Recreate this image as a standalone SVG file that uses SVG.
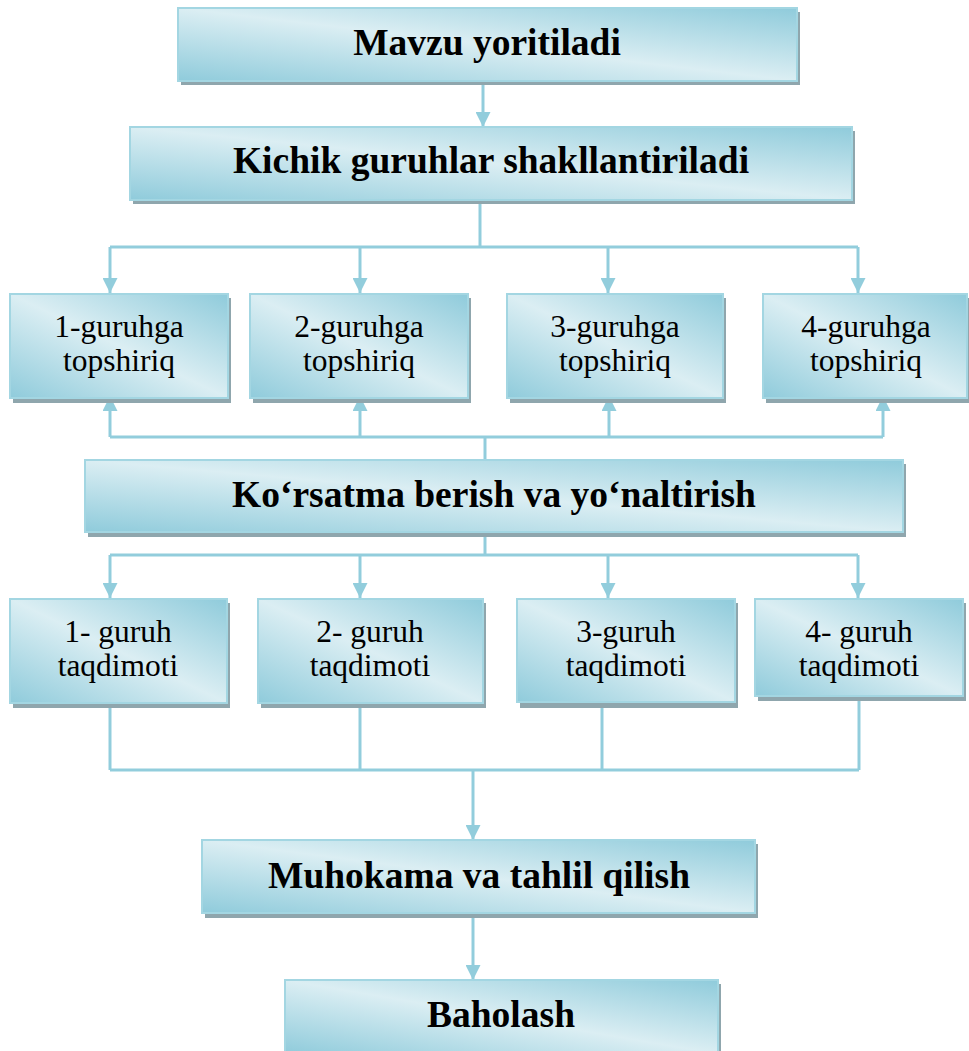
<svg xmlns="http://www.w3.org/2000/svg" width="969" height="1051" viewBox="0 0 969 1051">
<defs>
<linearGradient id="grad" x1="0" y1="1" x2="1" y2="0">
<stop offset="0" stop-color="#8fcbdb"/>
<stop offset="0.5" stop-color="#dbeef3"/>
<stop offset="1" stop-color="#8fcbdb"/>
</linearGradient>
<marker id="arr" markerUnits="userSpaceOnUse" markerWidth="16" markerHeight="15" refX="15" refY="7.5" orient="auto">
<path d="M0,0 L15,7.5 L0,15 Z" fill="#92cddc"/>
</marker>
</defs>
<style>
.sh{fill:#8fa6ad}
.bx{fill:url(#grad);stroke:#a3d6e2;stroke-width:2}
.t{font-family:"Liberation Serif","Times New Roman",serif;font-weight:bold;font-size:37.5px;fill:#000;text-anchor:middle}
.s{font-family:"Liberation Serif","Times New Roman",serif;font-size:31.5px;fill:#000;text-anchor:middle}
.c{fill:none;stroke:#92cddc;stroke-width:3}
</style>
<rect width="969" height="1051" fill="#fff"/>

<g id="connectors">
<line class="c" x1="483" y1="81" x2="483" y2="127" marker-end="url(#arr)"/>
<polyline class="c" points="480,200 480,247"/>
<line class="c" x1="110" y1="247" x2="858" y2="247"/>
<line class="c" x1="110" y1="247" x2="110" y2="293" marker-end="url(#arr)"/>
<line class="c" x1="360" y1="247" x2="360" y2="293" marker-end="url(#arr)"/>
<line class="c" x1="608" y1="247" x2="608" y2="293" marker-end="url(#arr)"/>
<line class="c" x1="858" y1="247" x2="858" y2="293" marker-end="url(#arr)"/>
<line class="c" x1="110" y1="437" x2="883" y2="437"/>
<line class="c" x1="110" y1="437" x2="110" y2="396" marker-end="url(#arr)"/>
<line class="c" x1="360" y1="437" x2="360" y2="396" marker-end="url(#arr)"/>
<line class="c" x1="609" y1="437" x2="609" y2="396" marker-end="url(#arr)"/>
<line class="c" x1="883" y1="437" x2="883" y2="396" marker-end="url(#arr)"/>
<line class="c" x1="485" y1="437" x2="485" y2="460"/>
<line class="c" x1="485" y1="532" x2="485" y2="555"/>
<line class="c" x1="110" y1="555" x2="858" y2="555"/>
<line class="c" x1="110" y1="555" x2="110" y2="598" marker-end="url(#arr)"/>
<line class="c" x1="360" y1="555" x2="360" y2="598" marker-end="url(#arr)"/>
<line class="c" x1="608" y1="555" x2="608" y2="598" marker-end="url(#arr)"/>
<line class="c" x1="858" y1="555" x2="858" y2="598" marker-end="url(#arr)"/>
<line class="c" x1="110" y1="703" x2="110" y2="770"/>
<line class="c" x1="360" y1="703" x2="360" y2="770"/>
<line class="c" x1="602" y1="703" x2="602" y2="770"/>
<line class="c" x1="859" y1="696" x2="859" y2="770"/>
<line class="c" x1="110" y1="770" x2="859" y2="770"/>
<line class="c" x1="473" y1="770" x2="473" y2="840" marker-end="url(#arr)"/>
<line class="c" x1="473" y1="913" x2="473" y2="980" marker-end="url(#arr)"/>
</g>

<g id="mavzu">
<rect class="sh" x="181" y="12" width="619" height="73"/>
<rect class="bx" x="178" y="8" width="619" height="73"/>
<text class="t" x="487" y="55">Mavzu yoritiladi</text>
</g>
<g id="kichik">
<rect class="sh" x="133" y="131" width="722" height="73"/>
<rect class="bx" x="130" y="127" width="722" height="73"/>
<text class="t" x="491" y="173">Kichik guruhlar shakllantiriladi</text>
</g>

<g id="t1">
<rect class="sh" x="13" y="298" width="218" height="105"/>
<rect class="bx" x="10" y="294" width="218" height="104"/>
<text class="s" x="119" y="337">1-guruhga</text>
<text class="s" x="119" y="371">topshiriq</text>
</g>
<g id="t2">
<rect class="sh" x="253" y="298" width="218" height="105"/>
<rect class="bx" x="250" y="294" width="218" height="104"/>
<text class="s" x="359" y="337">2-guruhga</text>
<text class="s" x="359" y="371">topshiriq</text>
</g>
<g id="t3">
<rect class="sh" x="510" y="298" width="216" height="105"/>
<rect class="bx" x="507" y="294" width="216" height="104"/>
<text class="s" x="615" y="337">3-guruhga</text>
<text class="s" x="615" y="371">topshiriq</text>
</g>
<g id="t4">
<rect class="sh" x="766" y="298" width="206" height="105"/>
<rect class="bx" x="763" y="294" width="204" height="104"/>
<text class="s" x="866" y="337">4-guruhga</text>
<text class="s" x="866" y="371">topshiriq</text>
</g>

<g id="korsatma">
<rect class="sh" x="88" y="464" width="818" height="73"/>
<rect class="bx" x="85" y="460" width="818" height="72"/>
<text class="t" x="494" y="507">Ko‘rsatma berish va yo‘naltirish</text>
</g>

<g id="g1">
<rect class="sh" x="13" y="603" width="217" height="105"/>
<rect class="bx" x="10" y="599" width="217" height="104"/>
<text class="s" x="118" y="642">1- guruh</text>
<text class="s" x="118" y="676">taqdimoti</text>
</g>
<g id="g2">
<rect class="sh" x="261" y="603" width="225" height="105"/>
<rect class="bx" x="258" y="599" width="225" height="104"/>
<text class="s" x="370" y="642">2- guruh</text>
<text class="s" x="370" y="676">taqdimoti</text>
</g>
<g id="g3">
<rect class="sh" x="520" y="603" width="218" height="105"/>
<rect class="bx" x="517" y="599" width="218" height="103"/>
<text class="s" x="626" y="642">3-guruh</text>
<text class="s" x="626" y="676">taqdimoti</text>
</g>
<g id="g4">
<rect class="sh" x="758" y="603" width="208" height="98"/>
<rect class="bx" x="755" y="599" width="208" height="97"/>
<text class="s" x="859" y="642">4- guruh</text>
<text class="s" x="859" y="676">taqdimoti</text>
</g>

<g id="muhokama">
<rect class="sh" x="205" y="844" width="553" height="74"/>
<rect class="bx" x="202" y="840" width="553" height="73"/>
<text class="t" x="479" y="888">Muhokama va tahlil qilish</text>
</g>
<g id="baholash">
<rect class="sh" x="288" y="984" width="433" height="74"/>
<rect class="bx" x="285" y="980" width="433" height="74"/>
<text class="t" x="501" y="1027">Baholash</text>
</g>
</svg>
